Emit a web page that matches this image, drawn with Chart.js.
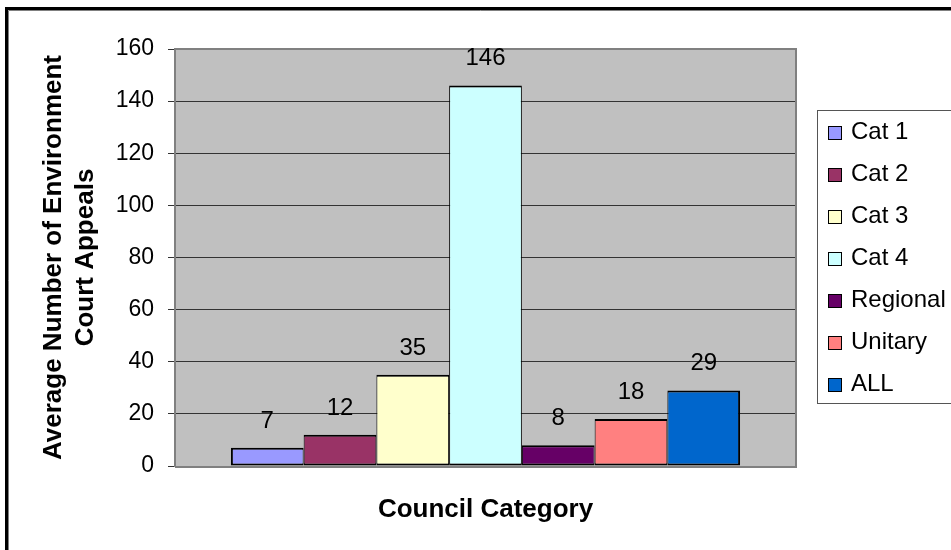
<!DOCTYPE html>
<html>
<head>
<meta charset="utf-8">
<script src="https://cdn.jsdelivr.net/npm/chart.js@4.4.1/dist/chart.umd.min.js"></script>
<style>
  html, body { margin: 0; padding: 0; background: #fff; }
  #wrap { width: 951px; height: 550px; position: relative; }
</style>
</head>
<body>
<div id="wrap"><canvas id="myChart" width="951" height="550"></canvas></div>
<script>
const seriesNames = ['Cat 1', 'Cat 2', 'Cat 3', 'Cat 4', 'Regional', 'Unitary', 'ALL'];
const seriesValues = [7, 12, 35, 146, 8, 18, 29];
const seriesColors = ['#9999FF', '#993366', '#FFFFCC', '#CCFFFF', '#660066', '#FF8080', '#0066CC'];
const yTicks = [0, 20, 40, 60, 80, 100, 120, 140, 160];

const FONT = '"Liberation Sans", Arial, sans-serif';

const datasets = seriesNames.map((name, i) => ({
  label: name,
  data: [seriesValues[i]],
  backgroundColor: seriesColors[i],
  borderColor: '#000',
  borderSkipped: false,
  borderWidth: ctx => ({
    top: 2, bottom: 2,
    left: ctx.datasetIndex === 0 ? 2 : 1,
    right: ctx.datasetIndex === seriesNames.length - 1 ? 2 : 1
  }),
  barPercentage: 1,
  categoryPercentage: 0.82
}));

const frame = {
  id: 'frame',
  beforeDraw(chart) {
    const { ctx, chartArea: a } = chart;
    ctx.save();
    ctx.fillStyle = '#fff';
    ctx.fillRect(0, 0, chart.width, chart.height);
    ctx.fillStyle = '#C0C0C0';
    ctx.fillRect(a.left, a.top, a.right - a.left, a.bottom - a.top);
    ctx.restore();
  },
  beforeDatasetsDraw(chart) {
    const { ctx, chartArea: a } = chart;
    ctx.save();
    ctx.strokeStyle = '#808080';
    ctx.lineWidth = 2;
    ctx.beginPath();
    ctx.moveTo(a.left, a.top);
    ctx.lineTo(a.right, a.top);
    ctx.lineTo(a.right, a.bottom + 1);
    ctx.lineTo(a.left, a.bottom + 1);
    ctx.stroke();
    ctx.restore();
  },
  afterDraw(chart) {
    const { ctx } = chart;
    ctx.save();
    // outer chart border
    ctx.strokeStyle = '#000';
    ctx.lineWidth = 3;
    ctx.strokeRect(6.5, 8.5, 1200, 1200);
    ctx.strokeStyle = '#808080';
    ctx.lineWidth = 1;
    ctx.beginPath();
    ctx.moveTo(8.5, 10.5); ctx.lineTo(1200, 10.5);
    ctx.moveTo(8.5, 10.5); ctx.lineTo(8.5, 1200);
    ctx.stroke();

    // value labels
    ctx.fillStyle = '#000';
    ctx.font = '24px ' + FONT;
    ctx.textAlign = 'center';
    ctx.textBaseline = 'alphabetic';
    chart.data.datasets.forEach((ds, i) => {
      const bar = chart.getDatasetMeta(i).data[0];
      ctx.fillText(String(ds.data[0]), bar.x, bar.y - 20);
    });

    // legend
    ctx.fillStyle = '#fff';
    ctx.fillRect(817, 110, 140, 293);
    ctx.strokeStyle = '#555';
    ctx.lineWidth = 1;
    ctx.strokeRect(817.5, 110.5, 140, 293);
    ctx.textAlign = 'left';
    ctx.textBaseline = 'middle';
    chart.data.datasets.forEach((ds, i) => {
      const cy = 132 + i * 42;
      ctx.fillStyle = ds.backgroundColor;
      ctx.fillRect(828, cy - 6, 13, 13);
      ctx.strokeStyle = '#000';
      ctx.lineWidth = 1;
      ctx.strokeRect(828.5, cy - 5.5, 13, 13);
      ctx.fillStyle = '#000';
      ctx.fillText(ds.label, 851, cy);
    });
    ctx.restore();
  }
};

new Chart(document.getElementById('myChart').getContext('2d'), {
  type: 'bar',
  data: { labels: [''], datasets },
  options: {
    responsive: false,
    animation: false,
    layout: { padding: { left: 0, top: 49, right: 155, bottom: 0 } },
    plugins: { legend: { display: false }, tooltip: { enabled: false } },
    scales: {
      x: {
        grid: { display: false },
        border: { display: false },
        ticks: { display: false },
        title: {
          display: true,
          text: 'Council Category',
          color: '#000',
          font: { family: FONT, size: 26, weight: 'bold', lineHeight: 1.2 },
          padding: { top: 0, bottom: 25 }
        },
        afterFit(s) { s.height = 84; }
      },
      y: {
        min: 0,
        max: 160,
        afterBuildTicks(s) { s.ticks = yTicks.map(v => ({ value: v })); },
        ticks: {
          color: '#000',
          padding: 14,
          font: { family: FONT, size: 23 }
        },
        grid: {
          color: ctx => (ctx.tick && (ctx.tick.value === 0 || ctx.tick.value === 160)) ? 'rgba(0,0,0,0)' : '#333',
          tickColor: '#333',
          tickLength: 7,
          lineWidth: 1
        },
        border: { color: '#808080', width: 2 },
        title: {
          display: true,
          text: ['Average Number of Environment', 'Court Appeals'],
          color: '#000',
          font: { family: FONT, size: 26, weight: 'bold', lineHeight: 1.23 },
          padding: { top: 38, bottom: 0 }
        },
        afterFit(s) { s.width = 175; }
      }
    }
  },
  plugins: [frame]
});
</script>
</body>
</html>
